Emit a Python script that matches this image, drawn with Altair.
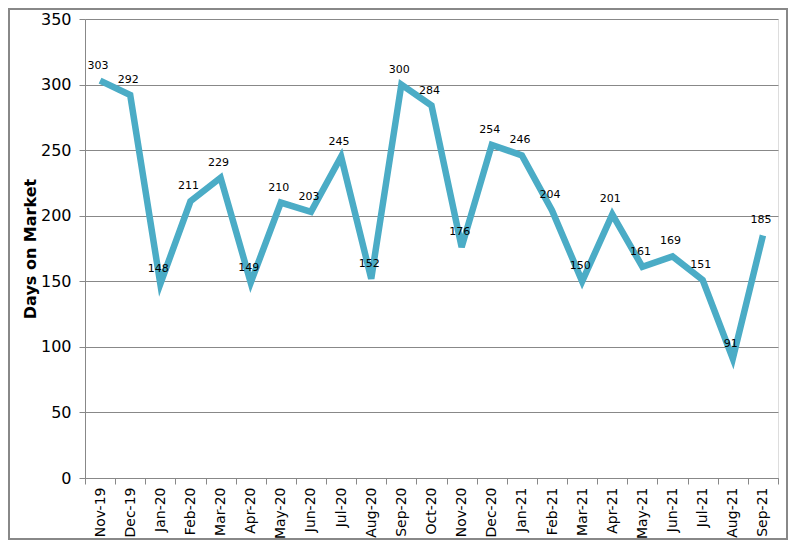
import altair as alt
import pandas as pd

months = ["Nov-19","Dec-19","Jan-20","Feb-20","Mar-20","Apr-20","May-20","Jun-20","Jul-20","Aug-20",
          "Sep-20","Oct-20","Nov-20","Dec-20","Jan-21","Feb-21","Mar-21","Apr-21","May-21","Jun-21",
          "Jul-21","Aug-21","Sep-21"]
days = [303,292,148,211,229,149,210,203,245,152,300,284,176,254,246,204,150,201,161,169,151,91,185]

df = pd.DataFrame({"month": months, "days": days})

x = alt.X("month:N", sort=months, title=None,
          scale=alt.Scale(paddingInner=0, paddingOuter=0),
          axis=alt.Axis(labelAngle=-90, labelAlign="right", labelBaseline="middle",
                        labelFont="DejaVu Sans", labelFontSize=14, labelColor="black",
                        tickBand="extent", tickColor="#888", tickSize=6, domainColor="#888",
                        labelPadding=3, grid=False))
y = alt.Y("days:Q", title="Days on Market",
          scale=alt.Scale(domain=[0, 350]),
          axis=alt.Axis(values=list(range(0, 351, 50)), labelFont="DejaVu Sans", labelFontSize=16,
                        labelColor="black", tickColor="#888", tickSize=6, domainColor="#888",
                        domain=True, gridColor="#888", gridWidth=1, labelPadding=8,
                        titleFont="DejaVu Sans", titleFontSize=16, titleFontWeight="bold",
                        titleColor="black", titlePadding=2))

line = alt.Chart(df).mark_line(color="#4BACC6", strokeWidth=6.5).encode(x=x, y=y)
labels = alt.Chart(df).mark_text(fontSize=11, font="DejaVu Sans", color="black", dy=-15, dx=-2).encode(
    x=alt.X("month:N", sort=months), y="days:Q", text="days:Q")
border = alt.Chart(df).mark_rect(fill=None, stroke="#888", strokeWidth=1.5, clip=False).encode(
    x=alt.value(-76), x2=alt.value(702), y=alt.value(-10), y2=alt.value(520))

chart = alt.layer(border, line, labels).properties(
    width=693, height=459,
    autosize=alt.AutoSizeParams(type="none"),
    padding={"left": 77, "top": 11, "right": 11, "bottom": 62},
).configure_view(stroke=None).configure(background="white")

chart.save("out.html", embed_options={"renderer": "svg", "actions": False})
